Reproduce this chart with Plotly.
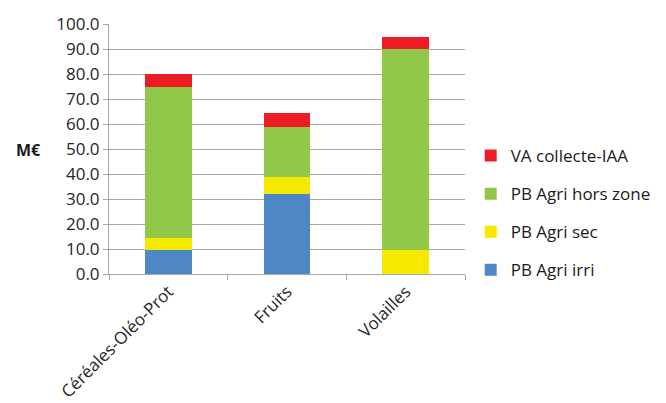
import plotly.graph_objects as go

categories = ["Céréales-Oléo-Prot", "Fruits", "Volailles"]
pb_agri_irri = [9.7, 32.1, 0.0]
pb_agri_sec = [4.8, 6.7, 9.8]
pb_agri_hors_zone = [60.3, 19.9, 80.2]
va_collecte_iaa = [5.3, 5.7, 5.0]

series = [
    ("PB Agri irri", pb_agri_irri, "#4F88C6"),
    ("PB Agri sec", pb_agri_sec, "#F5E900"),
    ("PB Agri hors zone", pb_agri_hors_zone, "#92C84A"),
    ("VA collecte-IAA", va_collecte_iaa, "#ED1C24"),
]

FONT = "Open Sans"
fig = go.Figure()
n = len(series)
for i, (name, vals, col) in enumerate(series):
    fig.add_trace(go.Bar(
        x=categories, y=vals, name=name, marker_color=col,
        marker_line_width=0, legendgroup=name, legendrank=n - i,
    ))

# page body has an 8px margin, so the figure is offset by 8px
fig.update_layout(
    width=658, height=395,
    barmode="stack", bargap=0.605,
    plot_bgcolor="white", paper_bgcolor="white",
    margin=dict(l=101, r=201, t=16, b=129, autoexpand=False),
    font=dict(family=FONT, size=17, color="#262626"),
    legend=dict(
        traceorder="grouped", x=1.016, xanchor="left",
        y=(274 - 213) / 250, yanchor="middle",
        font=dict(family=FONT, size=17, color="#1a1a1a"),
        tracegroupgap=13, itemwidth=30,
    ),
    showlegend=True,
)
fig.update_yaxes(
    range=[0, 100], dtick=10, tickformat=".1f",
    showgrid=True, gridcolor="#A6A6A6", gridwidth=1,
    showline=True, linecolor="#A6A6A6", linewidth=1,
    ticks="outside", ticklen=5, tickcolor="#A6A6A6",
    zeroline=False, fixedrange=True, automargin=False,
)
fig.update_xaxes(
    showline=True, linecolor="#A6A6A6", linewidth=1,
    ticks="outside", ticklen=5, tickcolor="#A6A6A6",
    tickson="boundaries", tickangle=-45, automargin=False,
)
fig.add_annotation(
    text="<b>M€</b>", xref="paper", yref="y", x=(28 - 109) / 356, y=49.6,
    showarrow=False, font=dict(family=FONT, size=16, color="#1a1a1a"),
    xanchor="center", yanchor="middle",
)
fig.write_html("out.html")
